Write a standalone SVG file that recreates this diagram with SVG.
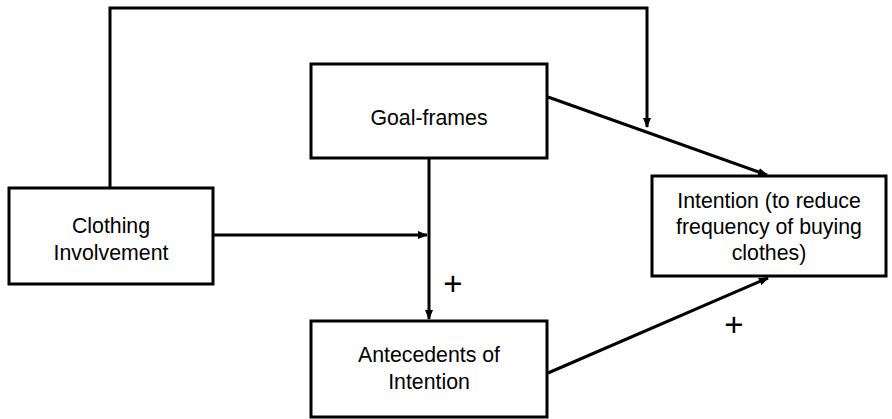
<svg xmlns="http://www.w3.org/2000/svg" width="892" height="419" viewBox="0 0 892 419">
<style>
.box{fill:#fff;stroke:#000;stroke-width:3}
.t{font-family:"Liberation Sans",Arial,sans-serif;font-size:21.3px;fill:#000;text-anchor:middle}
.c{fill:none;stroke:#000;stroke-width:3}
.p{font-family:"Liberation Sans",Arial,sans-serif;font-size:33px;fill:#000;text-anchor:middle}
</style>
<defs>
<marker id="ah" markerWidth="10" markerHeight="8" refX="9" refY="4" orient="auto" markerUnits="userSpaceOnUse">
<path d="M0,0 L10,4 L0,8 Z" fill="#000"/>
</marker>
</defs>
<g id="connectors">
<path class="c" d="M110,187 V8 H647 V127" marker-end="url(#ah)"/>
<line class="c" x1="548" y1="97" x2="767" y2="175" marker-end="url(#ah)"/>
<line class="c" x1="429" y1="158" x2="429" y2="319" marker-end="url(#ah)"/>
<line class="c" x1="213" y1="235" x2="427" y2="235" marker-end="url(#ah)"/>
<line class="c" x1="548" y1="373" x2="768" y2="278" marker-end="url(#ah)"/>
<text class="p" x="453" y="295">+</text>
<text class="p" x="734" y="336">+</text>
</g>
<g id="clothing">
<rect class="box" x="9" y="188" width="204" height="96"/>
<text class="t" x="111" y="233">Clothing</text>
<text class="t" x="111" y="260">Involvement</text>
</g>
<g id="goalframes">
<rect class="box" x="311" y="64" width="236" height="94"/>
<text class="t" x="429" y="125">Goal-frames</text>
</g>
<g id="antecedents">
<rect class="box" x="311" y="321" width="236" height="96"/>
<text class="t" x="429" y="362">Antecedents of</text>
<text class="t" x="429" y="389">Intention</text>
</g>
<g id="intention">
<rect class="box" x="652" y="176" width="234" height="100"/>
<text class="t" x="769" y="208">Intention (to reduce</text>
<text class="t" x="769" y="234">frequency of buying</text>
<text class="t" x="769" y="260">clothes)</text>
</g>
</svg>
